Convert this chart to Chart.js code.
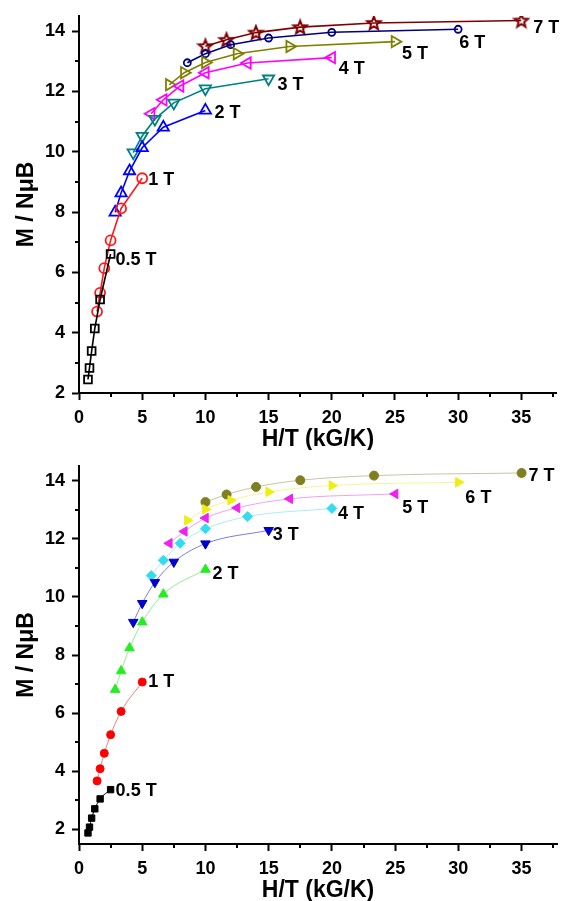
<!DOCTYPE html>
<html>
<head>
<meta charset="utf-8">
<script src="https://cdn.jsdelivr.net/npm/chart.js@4.4.0/dist/chart.umd.min.js"></script>
<style>
  html, body { margin: 0; padding: 0; background: #fff; }
  #wrap { position: relative; width: 565px; height: 901px; }
  canvas { position: absolute; left: 0; }
</style>
</head>
<body>
<div id="wrap">
  <canvas id="top" width="565" height="450" style="top:0"></canvas>
  <canvas id="bottom" width="565" height="451" style="top:450px"></canvas>
</div>
<script>
// field labels
const fields = ['0.5 T', '1 T', '2 T', '3 T', '4 T', '5 T', '6 T', '7 T'];

// H/T values (kG/K) for each field
const h05 = [0.71, 0.83, 1.0, 1.25, 1.67, 2.5];
const h1  = [1.43, 1.67, 2.0, 2.5, 3.33, 5.0];
const h2  = [2.86, 3.33, 4.0, 5.0, 6.67, 10.0];
const h3  = [4.29, 5.0, 6.0, 7.5, 10.0, 15.0];
const h4  = [5.71, 6.67, 8.0, 10.0, 13.33, 20.0];
const h5  = [7.14, 8.33, 10.0, 12.5, 16.67, 25.0];
const h6  = [8.57, 10.0, 12.0, 15.0, 20.0, 30.0];
const h7  = [10.0, 11.67, 14.0, 17.5, 23.33, 35.0];

// top panel, M / NuB
const top05 = [2.45, 2.83, 3.39, 4.14, 5.1, 6.61];
const top1  = [4.7, 5.32, 6.14, 7.06, 8.12, 9.12];
const top2  = [7.99, 8.63, 9.36, 10.13, 10.81, 11.37];
const top3  = [9.97, 10.52, 11.08, 11.62, 12.09, 12.42];
const top4  = [11.26, 11.72, 12.18, 12.62, 12.94, 13.12];
const top5  = [12.22, 12.62, 12.96, 13.25, 13.49, 13.65];
const top6  = [12.95, 13.25, 13.55, 13.77, 13.96, 14.06];
const top7  = [13.5, 13.71, 13.95, 14.13, 14.27, 14.35];

// bottom panel, M / NuB
const bot05 = [1.88, 2.08, 2.39, 2.71, 3.05, 3.37];
const bot1  = [3.67, 4.09, 4.62, 5.26, 6.06, 7.07];
const bot2  = [6.81, 7.45, 8.24, 9.13, 10.09, 10.94];
const bot3  = [9.13, 9.78, 10.5, 11.2, 11.83, 12.29];
const bot4  = [10.73, 11.26, 11.84, 12.34, 12.76, 13.04];
const bot5  = [11.84, 12.25, 12.71, 13.06, 13.37, 13.54];
const bot6  = [12.63, 13.01, 13.32, 13.61, 13.83, 13.94];
const bot7  = [13.26, 13.52, 13.78, 14.01, 14.17, 14.26];

// ticks
const xTicks = [0, 5, 10, 15, 20, 25, 30, 35];
const xMinor = [2.5, 7.5, 12.5, 17.5, 22.5, 27.5, 32.5, 37.5];
const yTicks = [2, 4, 6, 8, 10, 12, 14];
const yMinor = [3, 5, 7, 9, 11, 13];

const hs = [h05, h1, h2, h3, h4, h5, h6, h7];
const topSeries = [top05, top1, top2, top3, top4, top5, top6, top7];
const botSeries = [bot05, bot1, bot2, bot3, bot4, bot5, bot6, bot7];

const FAM = "'Liberation Sans', Arial, sans-serif";

function starCanvas(color) {
  const c = document.createElement('canvas');
  c.width = 18; c.height = 18;
  const g = c.getContext('2d');
  g.strokeStyle = color;
  g.lineWidth = 2;
  g.lineJoin = 'miter';
  g.beginPath();
  for (let i = 0; i < 10; i++) {
    const r = i % 2 ? 3 : 7;
    const a = -Math.PI / 2 + i * Math.PI / 5;
    const px = 9 + r * Math.cos(a), py = 9.5 + r * Math.sin(a);
    if (i) g.lineTo(px, py); else g.moveTo(px, py);
  }
  g.closePath();
  g.stroke();
  return c;
}

// marker styles: [pointStyle, rotation, radius, color]
const topStyles = [
  ['rect', 0, 5.5, '#000000'],
  ['circle', 0, 5, '#ff1a1a'],
  ['triangle', 0, 6.5, '#0000ff'],
  ['triangle', 180, 6.5, '#008080'],
  ['triangle', 270, 6.5, '#ff00ff'],
  ['triangle', 90, 6.5, '#808000'],
  ['circle', 0, 3.5, '#000080'],
  [starCanvas('#800000'), 0, 6, '#800000']
];
// [pointStyle, rotation, radius, marker colour, line colour]
const botStyles = [
  ['rect', 0, 4.5, '#000000', '#000000'],
  ['circle', 0, 4, '#ff0000', '#f08080'],
  ['triangle', 0, 5.5, '#22ee22', '#90ee90'],
  ['triangle', 180, 5.5, '#0000cc', '#7b7be0'],
  ['rectRot', 0, 5, '#33ddee', '#a8eef4'],
  ['triangle', 270, 5.5, '#ee22ee', '#f2a0f2'],
  ['triangle', 90, 5.5, '#eeee11', '#f4f49a'],
  ['circle', 0, 4.5, '#7f7f1f', '#c8c4a0']
];

const topLabelOffsets = [[5, 6], [6, 2], [9, 3], [9, 6], [7, 11], [7, 12], [1, 14], [12, 8]];
const botLabelOffsets = [[5, 1], [6, 0], [7, 5], [4, 5], [6, 6], [7, 14], [7, 16], [7, 3]];

function topDatasets() {
  return fields.map((f, i) => {
    const s = topStyles[i];
    return {
      label: f,
      data: hs[i].map((x, j) => ({ x: x, y: topSeries[i][j] })),
      showLine: true,
      borderColor: s[3],
      borderWidth: 1.6,
      pointStyle: s[0],
      rotation: s[1],
      pointRadius: s[2],
      pointBorderColor: s[3],
      pointBackgroundColor: 'rgba(255,255,255,0)',
      pointBorderWidth: 1.8
    };
  });
}

function botDatasets() {
  return fields.map((f, i) => {
    const s = botStyles[i];
    return {
      label: f,
      data: hs[i].map((x, j) => ({ x: x, y: botSeries[i][j] })),
      showLine: true,
      borderColor: s[4],
      borderWidth: 1,
      tension: 0.4,
      cubicInterpolationMode: 'monotone',
      pointStyle: s[0],
      rotation: s[1],
      pointRadius: s[2],
      pointBorderColor: s[3],
      pointBackgroundColor: s[3],
      pointBorderWidth: 1
    };
  });
}

const minorTicks = {
  id: 'minorTicks',
  afterDraw(chart) {
    const ctx = chart.ctx, a = chart.chartArea;
    const xs = chart.scales.x, ys = chart.scales.y;
    ctx.save();
    ctx.strokeStyle = '#000';
    ctx.lineWidth = 2;
    ctx.beginPath();
    xMinor.forEach(v => {
      if (v > xs.max) return;
      const px = Math.round(xs.getPixelForValue(v));
      ctx.moveTo(px, a.bottom);
      ctx.lineTo(px, a.bottom + 4);
    });
    yMinor.forEach(v => {
      if (v < ys.min || v > ys.max) return;
      const py = Math.round(ys.getPixelForValue(v));
      ctx.moveTo(a.left, py);
      ctx.lineTo(a.left - 4, py);
    });
    ctx.stroke();
    ctx.restore();
  }
};

const fieldLabels = {
  id: 'fieldLabels',
  afterDatasetsDraw(chart, args, opts) {
    const ctx = chart.ctx;
    ctx.save();
    ctx.fillStyle = '#000';
    ctx.font = 'bold 18px ' + FAM;
    ctx.textAlign = 'left';
    ctx.textBaseline = 'middle';
    chart.data.datasets.forEach((ds, i) => {
      const pts = chart.getDatasetMeta(i).data;
      const p = pts[pts.length - 1];
      const o = opts.offsets[i];
      ctx.fillText(ds.label, p.x + o[0], p.y + o[1]);
    });
    ctx.restore();
  }
};

function makeOptions(yMin, pad, offsets) {
  const tickFont = { family: FAM, size: 18, weight: 'bold', lineHeight: 1 };
  const titleFont = { family: FAM, size: 23, weight: 'bold', lineHeight: 1 };
  return {
    responsive: false,
    animation: false,
    devicePixelRatio: 1,
    layout: { padding: pad },
    plugins: {
      legend: { display: false },
      tooltip: { enabled: false },
      fieldLabels: { offsets: offsets }
    },
    scales: {
      x: {
        type: 'linear',
        min: 0,
        max: 37.8,
        afterBuildTicks: s => { s.ticks = xTicks.map(v => ({ value: v })); },
        afterFit: s => { s.height = 57; },
        border: { display: true, color: '#000', width: 2 },
        grid: { drawOnChartArea: false, drawTicks: true, tickLength: 7, tickColor: '#000', tickWidth: 2 },
        ticks: { color: '#000', font: tickFont, padding: 9, maxRotation: 0, autoSkip: false },
        title: { display: true, text: 'H/T (kG/K)', color: '#000', font: titleFont, padding: { top: 0, bottom: -1 } }
      },
      y: {
        type: 'linear',
        min: yMin,
        max: 14.5,
        afterBuildTicks: s => { s.ticks = yTicks.filter(v => v >= yMin).map(v => ({ value: v })); },
        afterFit: s => { s.width = 79; },
        border: { display: true, color: '#000', width: 2 },
        grid: { drawOnChartArea: false, drawTicks: true, tickLength: 7, tickColor: '#000', tickWidth: 2 },
        ticks: { color: '#000', font: tickFont, padding: 7, autoSkip: false },
        title: { display: true, text: 'M / NμB', color: '#000', font: titleFont, padding: { top: 15, bottom: 0 } }
      }
    }
  };
}

new Chart(document.getElementById('top'), {
  type: 'scatter',
  data: { datasets: topDatasets() },
  options: makeOptions(2, { top: 15, right: 8, left: 0, bottom: 0 }, topLabelOffsets),
  plugins: [minorTicks, fieldLabels]
});

new Chart(document.getElementById('bottom'), {
  type: 'scatter',
  data: { datasets: botDatasets() },
  options: makeOptions(1.5, { top: 13, right: 8, left: 0, bottom: 0 }, botLabelOffsets),
  plugins: [minorTicks, fieldLabels]
});
</script>
</body>
</html>
